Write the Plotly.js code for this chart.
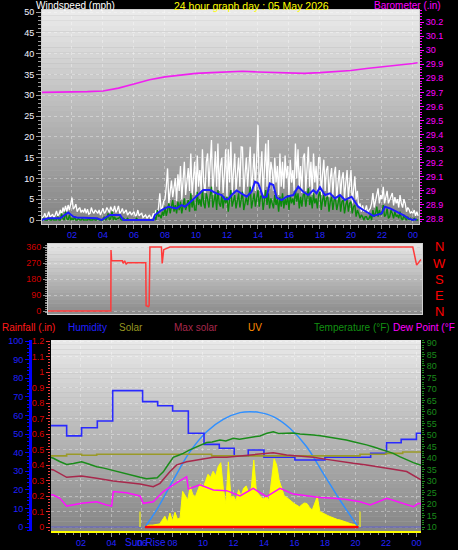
<!DOCTYPE html>
<html><head><meta charset="utf-8">
<script src="https://cdn.plot.ly/plotly-3.0.1.min.js"></script>
<style>html,body{margin:0;padding:0;background:#000;}#chart{width:458px;height:550px;}</style>
</head><body><div id="chart"></div>
<script>
// ---------------- DATA ----------------
// top panel: wind gust (white) and wind speed (green), 5-minute samples from 00:00
const gust = [
1.2,0.4,0.8,1.6,0.6,1.0,2.0,0.8,1.0,1.4,0.6,1.2,
2.2,1.0,1.4,2.4,1.2,3.0,2.0,3.4,2.0,3.6,2.4,4.2,
5.4,2.6,3.0,3.8,2.0,2.6,3.0,1.8,2.4,1.8,2.8,1.6,
2.6,1.4,1.6,3.0,2.0,1.6,2.4,2.0,1.6,2.4,1.2,2.0,
2.8,1.6,2.0,3.0,2.4,1.8,3.2,2.4,2.2,3.4,1.8,2.4,
3.4,1.6,2.0,2.8,1.6,2.0,2.4,1.2,1.6,2.0,1.2,1.6,
2.0,1.0,1.2,2.4,1.0,1.4,1.6,0.6,1.0,1.2,0.4,0.8,
1.2,0.4,0.6,1.6,0.8,2.4,1.4,3.0,6.4,2.4,3.0,4.5,
5.0,8.0,12.4,4.0,7.0,9.5,5.5,8.0,10.0,4.5,11.0,7.0,
13.0,5.0,9.0,14.0,6.0,10.0,12.5,7.0,16.0,6.0,11.0,14.0,
6.0,15.5,8.0,12.0,7.0,17.0,9.0,6.5,14.0,16.0,8.0,13.0,
19.2,6.0,12.0,16.5,8.0,18.4,7.0,13.0,15.0,6.5,11.0,17.0,
5.5,17.0,9.0,18.8,6.5,13.0,16.0,7.0,12.0,15.0,8.0,17.6,
17.5,6.0,11.0,15.0,8.0,13.0,17.6,6.5,12.0,16.0,7.0,14.0,
22.8,7.0,13.0,16.5,6.0,12.0,18.4,8.0,19.2,7.5,14.0,12.0,
7.0,15.0,9.0,13.0,6.0,16.0,8.0,14.0,7.5,15.5,10.0,13.0,
6.0,14.5,9.0,12.0,7.0,18.4,10.0,17.0,8.0,13.0,6.5,15.0,
16.0,7.0,12.0,17.6,8.0,14.0,6.0,16.0,9.0,13.0,7.0,15.0,
15.0,6.0,11.0,14.5,7.0,12.0,13.0,5.5,10.0,12.5,6.0,11.0,
12.8,5.0,9.0,12.0,6.0,10.0,11.5,5.0,9.0,12.0,5.5,10.0,
12.0,4.0,8.0,10.5,5.0,7.0,3.0,4.0,2.0,3.5,2.0,2.4,
3.5,1.6,2.4,2.8,4.0,6.5,3.0,4.8,6.0,7.6,4.0,6.0,
5.0,8.0,4.0,5.5,7.0,4.0,4.8,6.0,6.5,3.5,5.5,4.0,
5.0,3.0,6.0,4.0,3.0,5.0,4.0,2.0,3.0,2.5,1.6,2.0,
1.6,2.4,1.0,2.0,1.0];
const windSpeed = [
0,0,0.4,0,0,0,0.4,0,0,0.4,0,0,
0,0.8,0,0,1.6,0.4,0,2.0,0.4,0,1.2,0,
0.4,0,0.8,0,0,0.4,0,0,0.4,0,0,0,
0,0.4,0,0,0,0.4,0,0,0.4,0,0,0,
0,0.8,0,0.4,1.6,0,0.4,2.0,0,0.8,0,0.4,
0.4,0.8,0,0,0.4,0,0,0.4,0,0,0,0,
0,0,0.4,0,0,0,0,0,0,0,0,0,
0,0,0,0,0.8,0,2.4,0.8,1.2,0.4,2.0,1.0,
3.2,1.0,2.4,4.0,1.6,3.0,4.8,2.0,3.6,1.6,4.4,2.4,
4.4,1.6,3.6,5.2,2.4,4.0,4.8,2.0,6.4,3.0,5.0,2.4,
2.4,6.8,3.6,5.0,3.2,7.2,4.0,2.8,6.4,5.0,3.0,6.0,
8.0,3.0,5.0,6.4,2.4,7.2,4.0,3.2,6.0,2.8,5.6,4.0,
5.6,2.0,4.8,7.2,3.2,5.0,6.0,2.8,4.8,6.4,3.0,5.2,
6.8,2.4,4.4,5.6,3.6,6.0,8.0,2.8,5.0,6.4,3.2,5.6,
7.2,3.2,5.6,6.0,2.4,4.8,7.2,3.6,6.4,2.8,5.2,4.0,
2.8,6.0,3.6,5.2,2.0,5.6,3.2,6.4,2.8,5.0,3.6,6.0,
2.4,6.0,4.0,5.2,3.6,7.2,4.4,6.4,2.8,5.6,3.2,6.0,
6.4,3.2,5.2,7.6,3.6,5.6,2.8,6.4,4.0,5.2,2.8,6.0,
6.8,2.4,4.8,6.0,3.2,5.2,5.6,2.0,4.4,5.6,2.4,4.8,
5.2,2.4,4.0,6.0,2.0,4.4,4.8,1.6,3.6,4.8,2.0,4.0,
4.4,1.6,3.2,3.6,0.8,2.4,1.6,0.4,1.2,0.8,0,0.8,
0.8,0,0.4,1.2,0,2.4,0.8,1.6,3.2,0.8,2.4,1.2,
1.6,3.6,0.8,1.2,2.8,0.4,0.8,2.4,1.6,0.4,2.0,0.8,
1.2,0.4,2.0,0.4,0,1.2,0.4,0,0.8,0,0.4,0,
0,0.4,0,0,0];
const windStepHours = 1/12;

const windAvgHours = [0,0.47,1.23,1.76,2.09,2.30,3.59,3.91,4.45,5.10,5.31,7.25,7.35,7.78,8.22,8.75,9.08,9.29,9.83,10.04,10.47,10.90,11.33,11.66,11.87,12.09,12.30,12.62,12.95,13.27,13.59,13.81,14.02,14.34,14.56,14.77,14.99,15.20,15.53,15.85,16.28,16.60,16.92,17.25,17.57,17.78,18.00,18.32,18.65,18.97,19.29,19.61,20.04,20.26,20.47,20.80,21.01,21.23,21.44,21.98,22.19,22.52,22.95,23.38,23.70,23.98,24.24];
const windAvg = [0,0.4,0.4,1.8,0.8,0.6,0.4,0,1.2,1.2,0,0,1.2,2.4,3.2,2.8,3.6,3.2,5.0,5.8,7.2,7.2,6.4,6.0,5.0,5.0,6.0,7.1,6.4,5.6,6.8,9.2,8.8,5.4,5.6,8.8,8.4,5.4,4.8,5.6,6.0,8.0,6.8,6.0,7.2,6.4,7.9,6.0,6.4,5.2,6.0,4.8,5.6,4.4,3.2,2.4,2.0,1.4,1.0,1.6,3.2,2.8,2.0,1.2,0.4,0,0.2];

const baroHours = [0,1,2,3,4,5,6,7,8,9,10,11,12,13,14,15,16,17,18,19,20,21,22,23,24,24.3];
const barometer = [29.70,29.70,29.70,29.705,29.71,29.73,29.76,29.79,29.81,29.825,29.835,29.84,29.845,29.85,29.845,29.84,29.835,29.835,29.84,29.845,29.855,29.87,29.88,29.895,29.905,29.91];

// middle panel: wind direction (degrees)
const dirHours = [0,4.1,4.11,4.15,4.85,4.9,5.0,5.1,5.2,6.38,6.4,6.55,6.6,6.65,7.4,7.45,7.55,7.7,7.95,23.8,23.95,24.05,24.2,24.33];
const windDir  = [0,0,343,283,283,268,282,264,272,272,30,25,30,360,360,268,345,352,360,360,300,258,275,290];
const compassVals = [360,270,180,90,0];
const compassText = ['N','W','S','E','N'];

// bottom panel
const humHours = [0.03,1.06,2.04,3.07,4.08,5.06,6.04,7.03,8.01,9.04,10.07,11.07,12.05,12.97,14.0,15.0,16.03,17.0,18.0,19.0,20.0,21.0,22.04,23.0,24.0,24.3];
const humidity = [54.5,49,53.4,57,73.3,73.3,67.4,65.2,62.4,50.4,44.4,42.3,38.2,41.4,37.5,37.5,36.0,36.0,37.5,37.5,37.5,39.6,45.3,47.1,50.4,50.4];

const tempHours = [0.03,0.19,0.6,1.06,1.5,2.04,2.5,3.03,3.5,4.12,4.5,4.99,5.4,5.87,6.3,6.74,7.0,7.18,7.4,7.62,7.85,8.05,8.4,8.71,9.1,9.58,9.9,10.24,10.6,11.11,11.5,11.99,12.4,12.86,13.3,13.74,14.2,14.61,15.0,15.49,15.9,16.36,16.8,17.24,17.7,18.11,18.5,18.98,19.4,19.86,20.3,20.73,21.2,21.61,22.0,22.48,22.9,23.36,23.8,24.3];
const temperature = [40.2,39.9,38.5,37.2,37.6,38.4,37.4,36.2,35.6,34.5,33.8,33.0,32.4,31.6,31.0,31.2,31.4,32.6,34.0,36.2,38.5,40.3,41.2,42.0,43.4,44.9,45.8,46.7,47.0,47.8,47.4,48.6,48.2,48.6,49.2,49.6,50.8,51.4,50.6,50.7,50.9,50.4,50.3,50.0,49.7,49.3,48.9,48.3,47.8,47.1,46.5,45.7,44.8,43.9,43.0,42.0,40.6,39.1,38.0,36.8];

const maroonHours = [0.03,0.19,1.06,2.04,3.03,4.12,4.99,5.87,6.74,7.18,7.84,8.28,8.93,9.8,10.68,11.55,12.43,13.3,14.61,15.49,16.36,17.24,18.11,18.98,19.86,20.73,21.61,22.48,23.36,24.3];
const maxSolarLine = [35.0,34.8,31.6,32.2,31.2,30.0,29.4,28.7,27.5,29.0,34.1,37.0,38.4,39.4,40.3,40.3,40.9,41.3,42.3,41.3,40.9,40.3,39.4,38.4,37.7,37.0,35.9,35.1,34.1,30.5];

const dewHours = [0.03,0.19,0.62,1.06,2.04,3.03,3.68,4.01,4.12,4.99,5.87,6.09,6.74,7.4,8.05,8.93,9.04,9.8,10.68,11.55,12.43,13.3,14.17,15.05,15.93,16.8,17.68,18.55,19.43,20.3,20.97,22.06,22.93,23.8,24.12,24.3];
const dewPoint = [24.0,23.9,22.5,19.1,20.3,21.0,19.6,19.1,25.4,24.9,23.5,20.3,21.0,25.4,28.3,31.9,26.5,28.3,26.1,25.8,23.5,26.8,23.2,26.8,24.3,23.5,22.8,22.5,22.0,21.0,19.6,22.5,20.6,18.8,20.3,20.0];

const oliveHours = [0.03,1.06,2.04,3.03,10.57,20.3,22.0,23.1,24.3];
const solarLine = [40.9,41.6,41.2,41.6,40.9,41.6,42.0,42.6,42.6];

// solar radiation W/m2, 10-minute samples from 06:00
const solarStart = 6;
const solarStepHours = 1/6;
const solarRad = [
0,5,10,12,12,15,
18,20,45,70,30,90,
40,95,50,60,230,200,
175,260,210,195,240,280,
250,300,340,320,360,330,
390,415,250,150,420,190,
200,170,240,200,250,265,
220,250,432,230,210,190,
180,200,170,300,440,400,
300,250,200,190,175,165,
150,140,130,145,155,150,
125,110,150,196,100,90,
85,75,67,60,55,48,
45,38,32,26,22,18,
14,10,0];

const maxSolarHours = [6.2,6.96,8.05,9.15,10.24,11.33,12.43,13.08,13.74,14.61,15.7,16.8,17.89,18.98,20.18];
const maxSolar = [0,110,303,486,615,695,738,744,738,712,637,518,346,174,0];

const uvHours = [6.2,20.2];
const uv = [0,0];
const rainHours = [0.03,24.3];
const rainfall = [0,0];

const sunEvents = [5.87,20.3];
const sunMarkTop = 100;

const hourTicks = [2,4,6,8,10,12,14,16,18,20,22,24];
const hourLabels = ['02','04','06','08','10','12','14','16','18','20','22','00'];

// ---------------- LAYOUT HELPERS ----------------
const W = 458, H = 550;
const fx = p => p / W;
const fy = p => 1 - p / H;
const FONT = 'Liberation Sans, Arial, sans-serif';

function gradient(xd, yd, c0, c1, n) {
  const out = [];
  for (let i = 0; i < n; i++) {
    const t = i / (n - 1);
    const c = c0.map((v, k) => Math.round(v + (c1[k] - v) * t));
    out.push({type:'rect', xref:xd, yref:yd, x0:0, x1:1, y0:1-(i+1)/n, y1:1-i/n,
      fillcolor:'rgb(' + c.join(',') + ')', line:{width:0}, layer:'below'});
  }
  return out;
}

const gustTimes = gust.map((_, i) => i * windStepHours);
const speedTimes = windSpeed.map((_, i) => i * windStepHours);
const solarTimes = solarRad.map((_, i) => solarStart + i * solarStepHours);

const traces = [
  {x:gustTimes, y:gust, xaxis:'x', yaxis:'y', mode:'lines', line:{color:'#ffffff', width:1.3}, name:'Gust'},
  {x:speedTimes, y:windSpeed, xaxis:'x', yaxis:'y', mode:'lines', line:{color:'#0b8a0b', width:1.4}, name:'Speed'},
  {x:windAvgHours, y:windAvg, xaxis:'x', yaxis:'y', mode:'lines', line:{color:'#1c1cff', width:2}, name:'Average'},
  {x:baroHours, y:barometer, xaxis:'x', yaxis:'y2', mode:'lines', line:{color:'#f020f0', width:1.6}, name:'Barometer'},
  {x:dirHours, y:windDir, xaxis:'x2', yaxis:'y3', mode:'lines', line:{color:'#ff3a3a', width:1.5}, name:'Direction'},
  {x:solarTimes, y:solarRad, xaxis:'x3', yaxis:'y5', mode:'lines', fill:'tozeroy', fillcolor:'#ffff00', line:{color:'#ffff00', width:1}, name:'Solar'},
  {x:maxSolarHours, y:maxSolar, xaxis:'x3', yaxis:'y5', mode:'lines', line:{color:'#3090ff', width:1.5, shape:'spline'}, name:'Max solar curve'},
  {x:rainHours, y:rainfall, xaxis:'x3', yaxis:'y6', mode:'lines', line:{color:'#6a6ab4', width:1.5}, name:'Rainfall'},
  {x:uvHours, y:uv, xaxis:'x3', yaxis:'y6', mode:'lines', line:{color:'#ff0000', width:2.5}, name:'UV'},
  {x:humHours, y:humidity, xaxis:'x3', yaxis:'y7', mode:'lines', line:{color:'#2a2aff', width:1.6, shape:'hv'}, name:'Humidity'},
  {x:oliveHours, y:solarLine, xaxis:'x3', yaxis:'y8', mode:'lines', line:{color:'#9a9a28', width:1.6, shape:'hv'}, name:'Solar line'},
  {x:maroonHours, y:maxSolarLine, xaxis:'x3', yaxis:'y8', mode:'lines', line:{color:'#a8284c', width:1.5}, name:'Max solar'},
  {x:dewHours, y:dewPoint, xaxis:'x3', yaxis:'y8', mode:'lines', line:{color:'#ff10ff', width:1.5}, name:'Dew point'},
  {x:tempHours, y:temperature, xaxis:'x3', yaxis:'y8', mode:'lines', line:{color:'#1a8c1a', width:1.5}, name:'Temperature'}
];

const tickFont = (c) => ({family:FONT, size:9, color:c});
const grid = 'rgba(255,255,255,0.35)';

const shapes = []
  .concat(gradient('x domain','y domain',[234,234,234],[132,132,132],40))
  .concat(gradient('x2 domain','y3 domain',[228,228,228],[140,140,140],20))
  .concat(gradient('x3 domain','y5 domain',[232,232,232],[134,134,134],40));
sunEvents.forEach(h => shapes.push({type:'line', xref:'x3', yref:'y5', x0:h, x1:h, y0:0, y1:sunMarkTop,
  line:{color:'#c8c848', width:2}, layer:'above'}));

const ann = (text, xpx, ypx, color, size) => ({text:text, xref:'paper', yref:'paper', x:fx(xpx), y:fy(ypx),
  xanchor:'left', yanchor:'middle', showarrow:false, font:{family:FONT, size:size||10, color:color}});

const compassAnn = compassVals.map((v, i) => ({text:compassText[i], xref:'paper', yref:'y3', x:fx(439), y:v,
  xanchor:'center', yanchor:'middle', showarrow:false, font:{family:FONT, size:13, color:'#ff0000'}}));

const layout = {
  width:W, height:H, margin:{l:0, r:0, t:0, b:0},
  paper_bgcolor:'#000000', plot_bgcolor:'#b0b0b0', showlegend:false,
  xaxis:{domain:[fx(42), fx(419)], range:[0.065, 24.39], anchor:'y',
    tickmode:'array', tickvals:hourTicks, ticktext:hourLabels, tickfont:tickFont('#2323ff'),
    ticks:'outside', ticklen:4, tickcolor:'#8a8a8a', ticklabelstandoff:-2,
    minor:{tickmode:'linear', tick0:0, dtick:0.5, ticks:'outside', ticklen:3, tickcolor:'#8a8a8a', showgrid:false},
    showgrid:true, gridcolor:grid, griddash:'dot', zeroline:false,
    showline:true, linecolor:'#d0d0d0', linewidth:1, mirror:true},
  yaxis:{domain:[fy(224), fy(10)], range:[-0.96, 50.48], anchor:'x',
    tickmode:'linear', tick0:0, dtick:5, tickfont:tickFont('#f4f4ff'),
    ticks:'outside', ticklen:5, tickcolor:'#9a9a9a',
    minor:{tickmode:'linear', tick0:0, dtick:1, ticks:'outside', ticklen:3, tickcolor:'#9a9a9a', showgrid:false},
    showgrid:true, gridcolor:grid, griddash:'dot', zeroline:false,
    showline:true, linecolor:'#d0d0d0', mirror:true},
  yaxis2:{overlaying:'y', side:'right', anchor:'x', range:[28.7645, 30.2853],
    tickmode:'linear', tick0:28.8, dtick:0.1, tickfont:tickFont('#ff00ff'),
    ticks:'outside', ticklen:4, tickcolor:'#ff00ff',
    minor:{tickmode:'linear', tick0:28.8, dtick:0.02, ticks:'outside', ticklen:2, tickcolor:'#ff00ff', showgrid:false},
    showgrid:false, zeroline:false},

  xaxis2:{domain:[fx(48), fx(422)], range:[0, 24.4], anchor:'y3', showticklabels:false, ticks:'',
    showgrid:false, zeroline:false, showline:true, linecolor:'#d0d0d0', mirror:true},
  yaxis3:{domain:[fy(314), fy(244)], range:[-16.9, 376.9], anchor:'x2',
    tickmode:'array', tickvals:compassVals, tickfont:tickFont('#d00000'),
    ticks:'outside', ticklen:4, tickcolor:'#8a8a8a',
    minor:{tickmode:'linear', tick0:0, dtick:10, ticks:'outside', ticklen:2, tickcolor:'#8a8a8a', showgrid:false},
    showgrid:true, gridcolor:grid, griddash:'dot', zeroline:false,
    showline:true, linecolor:'#d0d0d0', mirror:true},

  xaxis3:{domain:[fx(51), fx(421)], range:[0.033, 24.3], anchor:'y5',
    tickmode:'array', tickvals:hourTicks, ticktext:hourLabels, tickfont:tickFont('#2323ff'),
    ticks:'outside', ticklen:4, tickcolor:'#8a8a8a', ticklabelstandoff:-2,
    minor:{tickmode:'linear', tick0:0, dtick:0.5, ticks:'outside', ticklen:2, tickcolor:'#8a8a8a', showgrid:false},
    showgrid:true, gridcolor:grid, griddash:'dot', zeroline:false,
    showline:true, linecolor:'#ffff00', linewidth:2},
  yaxis5:{domain:[fy(531), fy(340)], range:[-25.8, 1206.5], anchor:'x3', visible:false},
  yaxis6:{overlaying:'y5', side:'left', anchor:'x3', range:[-0.0258, 1.2065],
    tickmode:'linear', tick0:0, dtick:0.1, tickfont:tickFont('#dd0000'),
    ticks:'outside', ticklen:4, tickcolor:'#ee3030',
    minor:{tickmode:'linear', tick0:0, dtick:0.02, ticks:'outside', ticklen:2, tickcolor:'#ee4040', showgrid:false},
    showgrid:true, gridcolor:grid, griddash:'dot', zeroline:false},
  yaxis7:{overlaying:'y5', side:'left', anchor:'free', position:fx(30), range:[-2.15, 100.54],
    tickmode:'linear', tick0:0, dtick:10, tickfont:tickFont('#2020ff'),
    ticks:'outside', ticklen:4, tickcolor:'#0000ff',
    minor:{tickmode:'linear', tick0:0, dtick:2, ticks:'outside', ticklen:2, tickcolor:'#0000ff', showgrid:false},
    showline:true, linecolor:'#0000ff', linewidth:2.5, showgrid:false, zeroline:false},
  yaxis8:{overlaying:'y5', side:'right', anchor:'x3', range:[8.26, 91.3],
    tickmode:'linear', tick0:10, dtick:5, tickfont:tickFont('#1a8a1a'),
    ticks:'outside', ticklen:3, tickcolor:'#1a8a1a',
    minor:{tickmode:'linear', tick0:10, dtick:1, ticks:'outside', ticklen:2, tickcolor:'#1a8a1a', showgrid:false},
    showgrid:false, zeroline:false},

  shapes:shapes,
  annotations:[
    ann('Windspeed (mph)', 34, 6, '#ffffff'),
    ann('24 hour graph day : 05 May 2026', 172, 6, '#ffff00', 10.5),
    ann('Barometer (.in)', 372, 6, '#ff00ff'),
    ann('Rainfall (.in)', 0, 327, '#ff1a1a'),
    ann('Humidity', 66, 327, '#2020ff'),
    ann('Solar', 117, 327, '#969620'),
    ann('Max solar', 172, 327, '#a8284c'),
    ann('UV', 246, 327, '#ff8c00'),
    ann('Temperature (°F)', 312, 327, '#129012'),
    ann('Dew Point (°F', 391, 327, '#ff00ff'),
    ann('Sun Rise', 123, 542, '#2323ff', 10)
  ].concat(compassAnn)
};

Plotly.newPlot('chart', traces, layout, {staticPlot:true, displayModeBar:false});
</script></body></html>
